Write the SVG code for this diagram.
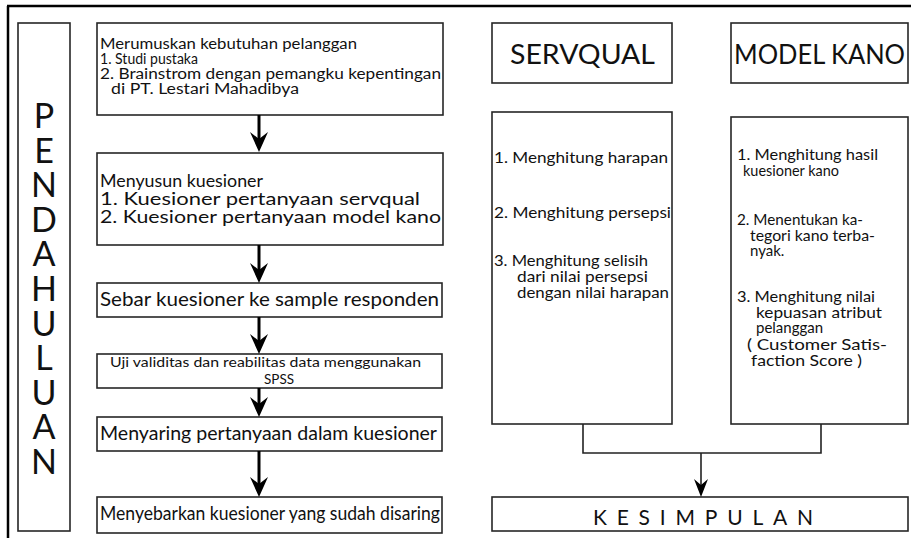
<svg xmlns="http://www.w3.org/2000/svg" width="911" height="538" viewBox="0 0 911 538">
<style>
.bx{fill:#fff;stroke:#262626;stroke-width:1.6}
text{font-family:Lato,"Liberation Sans",sans-serif;fill:#111}
.s15{font-size:14.5px}
.s18{font-size:17.5px}
.s19{font-size:18.5px}
.s13{font-size:13.5px}
.s16{font-size:15px}
.vert{font-size:34px;writing-mode:vertical-rl;text-orientation:upright;letter-spacing:-6.4px}
.ttl{font-size:26px}
.thick{stroke:#000;stroke-width:3;fill:none}
.thin{stroke:#222;stroke-width:1.6;fill:none}
</style>
<defs>
<path id="head" d="M0,0 L-9,-20 L0,-13 L9,-20 Z" fill="#000"/>
<path id="heads" d="M0,0 L-7,-18 L0,-12 L7,-18 Z" fill="#000"/>
</defs>
<rect width="911" height="538" fill="#fff"/>
<g id="frame">
<path d="M7,6 H911 M8,6 V538" stroke="#000" stroke-width="2.5" fill="none"/>
</g>
<g id="pendahuluan">
<rect class="bx" x="18" y="23" width="52" height="508"/>
<text class="vert" x="44" y="94">PENDAHULUAN</text>
</g>
<g id="n1">
<rect class="bx" x="97" y="23" width="346" height="92"/>
<text class="s15" x="100" y="49" textLength="257" lengthAdjust="spacingAndGlyphs">Merumuskan kebutuhan pelanggan</text>
<text class="s15" x="100" y="64" textLength="98" lengthAdjust="spacingAndGlyphs">1. Studi pustaka</text>
<text class="s15" x="100" y="79" textLength="341" lengthAdjust="spacingAndGlyphs">2. Brainstrom dengan pemangku kepentingan</text>
<text class="s15" x="111" y="94" textLength="188" lengthAdjust="spacingAndGlyphs">di PT. Lestari Mahadibya</text>
</g>
<g id="n2">
<rect class="bx" x="97" y="153" width="346" height="92"/>
<text class="s18" x="100" y="187" textLength="163" lengthAdjust="spacingAndGlyphs">Menyusun kuesioner</text>
<text class="s18" x="100" y="205" textLength="320" lengthAdjust="spacingAndGlyphs">1. Kuesioner pertanyaan servqual</text>
<text class="s18" x="100" y="223" textLength="341" lengthAdjust="spacingAndGlyphs">2. Kuesioner pertanyaan model kano</text>
</g>
<g id="n3">
<rect class="bx" x="97" y="283" width="345" height="34"/>
<text class="s19" x="100" y="306" textLength="339" lengthAdjust="spacingAndGlyphs">Sebar kuesioner ke sample responden</text>
</g>
<g id="n4">
<rect class="bx" x="97" y="354" width="345" height="34"/>
<text class="s13" x="110" y="367" textLength="311" lengthAdjust="spacingAndGlyphs">Uji validitas dan reabilitas data menggunakan</text>
<text class="s13" x="279" y="384" text-anchor="middle">SPSS</text>
</g>
<g id="n5">
<rect class="bx" x="97" y="417" width="345" height="34"/>
<text class="s19" x="100" y="440" textLength="337" lengthAdjust="spacingAndGlyphs">Menyaring pertanyaan dalam kuesioner</text>
</g>
<g id="n6">
<rect class="bx" x="97" y="497" width="345" height="36"/>
<text class="s19" x="100" y="520" textLength="340" lengthAdjust="spacingAndGlyphs">Menyebarkan kuesioner yang sudah disaring</text>
</g>
<g id="servqual">
<rect class="bx" x="492" y="23" width="180" height="60"/>
<text class="ttl" x="510" y="64" textLength="145" lengthAdjust="spacingAndGlyphs">SERVQUAL</text>
</g>
<g id="kano">
<rect class="bx" x="731" y="23" width="177" height="60"/>
<text class="ttl" x="734" y="64" textLength="171" lengthAdjust="spacingAndGlyphs">MODEL KANO</text>
</g>
<g id="servqual-steps">
<rect class="bx" x="492" y="112" width="180" height="312"/>
<text class="s16" x="494" y="163" textLength="174" lengthAdjust="spacingAndGlyphs">1. Menghitung harapan</text>
<text class="s16" x="494" y="218" textLength="177" lengthAdjust="spacingAndGlyphs">2. Menghitung persepsi</text>
<text class="s16" x="494" y="266" textLength="154" lengthAdjust="spacingAndGlyphs">3. Menghitung selisih</text>
<text class="s16" x="517" y="282" textLength="131" lengthAdjust="spacingAndGlyphs">dari nilai persepsi</text>
<text class="s16" x="517" y="298" textLength="152" lengthAdjust="spacingAndGlyphs">dengan nilai harapan</text>
</g>
<g id="kano-steps">
<rect class="bx" x="731" y="117" width="177" height="307"/>
<text class="s16" x="737" y="160" textLength="141" lengthAdjust="spacingAndGlyphs">1. Menghitung hasil</text>
<text class="s16" x="743" y="176" textLength="96" lengthAdjust="spacingAndGlyphs">kuesioner kano</text>
<text class="s16" x="737" y="225" textLength="126" lengthAdjust="spacingAndGlyphs">2. Menentukan ka-</text>
<text class="s16" x="750" y="241" textLength="125" lengthAdjust="spacingAndGlyphs">tegori kano terba-</text>
<text class="s16" x="750" y="256">nyak.</text>
<text class="s16" x="737" y="302" textLength="138" lengthAdjust="spacingAndGlyphs">3. Menghitung nilai</text>
<text class="s16" x="756" y="318" textLength="126" lengthAdjust="spacingAndGlyphs">kepuasan atribut</text>
<text class="s16" x="756" y="333">pelanggan</text>
<text class="s16" x="747" y="350" textLength="140" lengthAdjust="spacingAndGlyphs">( Customer Satis-</text>
<text class="s16" x="751" y="366" textLength="111" lengthAdjust="spacingAndGlyphs">faction Score )</text>
</g>
<g id="kesimpulan">
<rect class="bx" x="492" y="497" width="416" height="34"/>
<text x="593" y="525" font-size="21" textLength="220">KESIMPULAN</text>
</g>
<g id="connectors">
<line class="thick" x1="259" y1="115" x2="259" y2="139"/>
<use href="#head" x="259" y="152"/>
<line class="thick" x1="259" y1="245" x2="259" y2="270"/>
<use href="#head" x="259" y="283"/>
<line class="thick" x1="259" y1="317" x2="259" y2="341"/>
<use href="#head" x="259" y="354"/>
<line class="thick" x1="259" y1="388" x2="259" y2="404"/>
<use href="#head" x="259" y="417"/>
<line class="thick" x1="259" y1="451" x2="259" y2="484"/>
<use href="#head" x="259" y="497"/>
<path class="thin" d="M583,424 V453 H821 V424"/>
<line class="thin" x1="701" y1="453" x2="701" y2="486"/>
<use href="#heads" x="701" y="497"/>
</g>
</svg>
